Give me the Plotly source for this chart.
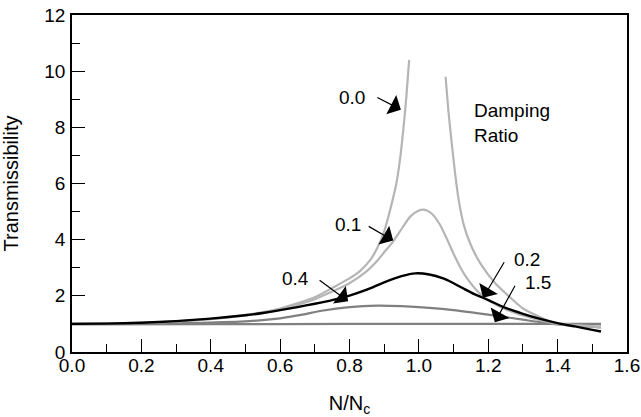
import plotly.graph_objects as go

# Damping ratio 0.0 (undamped), two branches
r00_left = [0.0, 0.2, 0.3, 0.4, 0.5, 0.6, 0.7, 0.75, 0.8, 0.83, 0.86, 0.88, 0.9, 0.92, 0.935, 0.945, 0.955, 0.964, 0.972]
t00_left = [1.0, 1.04, 1.09, 1.18, 1.32, 1.55, 1.95, 2.28, 2.62, 2.88, 3.28, 3.70, 4.30, 5.20, 6.00, 6.80, 7.90, 9.10, 10.40]
r00_right = [1.077, 1.085, 1.095, 1.105, 1.115, 1.13, 1.15, 1.18, 1.22, 1.26, 1.30, 1.35, 1.39, 1.45, 1.50, 1.525]
t00_right = [9.8, 8.6, 7.4, 6.3, 5.4, 4.5, 3.8, 3.1, 2.45, 1.98, 1.55, 1.24, 1.04, 0.95, 0.90, 0.88]

# Damping ratio 0.1
r01 = [0.0, 0.2, 0.4, 0.5, 0.6, 0.7, 0.75, 0.8, 0.85, 0.88, 0.9, 0.926, 0.95, 0.975, 1.0, 1.015, 1.035, 1.06, 1.08, 1.10, 1.12, 1.14, 1.17, 1.2, 1.25, 1.3, 1.35, 1.39, 1.45, 1.5, 1.525]
t01 = [1.0, 1.04, 1.17, 1.30, 1.50, 1.88, 2.15, 2.45, 2.88, 3.25, 3.55, 3.94, 4.38, 4.82, 5.04, 5.07, 4.95, 4.55, 4.05, 3.50, 3.00, 2.60, 2.15, 1.85, 1.52, 1.30, 1.13, 1.02, 0.96, 0.92, 0.91]

# Damping ratio 0.2 (black)
r02 = [0.0, 0.1, 0.2, 0.3, 0.4, 0.5, 0.55, 0.6, 0.65, 0.7, 0.75, 0.8, 0.85, 0.9, 0.95, 0.99, 1.03, 1.07, 1.1, 1.13, 1.16, 1.2, 1.25, 1.3, 1.35, 1.4, 1.45, 1.5, 1.525]
t02 = [1.0, 1.01, 1.04, 1.10, 1.19, 1.31, 1.39, 1.49, 1.60, 1.72, 1.85, 2.01, 2.22, 2.48, 2.70, 2.80, 2.76, 2.62, 2.45, 2.25, 2.06, 1.85, 1.57, 1.36, 1.18, 1.03, 0.91, 0.79, 0.73]

# Damping ratio 0.4
r04 = [0.0, 0.2, 0.37, 0.51, 0.6, 0.66, 0.72, 0.8, 0.88, 0.95, 1.03, 1.1, 1.2, 1.3, 1.386, 1.45, 1.5, 1.525]
t04 = [1.0, 1.02, 1.04, 1.10, 1.20, 1.32, 1.47, 1.60, 1.65, 1.63, 1.57, 1.49, 1.33, 1.15, 1.00, 0.93, 0.89, 0.88]

# Damping ratio 1.5
r15 = [0.0, 0.4, 0.8, 1.2, 1.525]
t15 = [0.98, 0.99, 1.0, 1.0, 1.0]

# Curve labels: text, text position, arrow tip position, arrow tail offset (px)
label_text = ["0.0", "0.1", "0.4", "0.2", "1.5"]
label_x = [0.807, 0.795, 0.643, 1.311, 1.344]
label_y = [9.06, 4.54, 2.60, 3.29, 2.46]
tip_x = [0.948, 0.926, 0.796, 1.185, 1.219]
tip_y = [8.63, 3.97, 1.81, 1.93, 1.06]
tail_dx = [-25, -26, -30, 22, 21]
tail_dy = [-13, -15, -22, -37, -38]

x_ticks = [0.0, 0.2, 0.4, 0.6, 0.8, 1.0, 1.2, 1.4, 1.6]
x_ticklabels = ["0.0", "0.2", "0.4", "0.6", "0.8", "1.0", "1.2", "1.4", "1.6"]
y_ticks = [0, 2, 4, 6, 8, 10, 12]

FONT = "Liberation Sans, Arial, Helvetica, sans-serif"
LIGHT = "#b5b5b5"
MID = "#808080"
FS = 19

fig = go.Figure()

def add(x, y, color, width=2.2):
    fig.add_trace(go.Scatter(x=x, y=y, mode="lines",
                             line=dict(color=color, width=width, shape="spline", smoothing=0.6),
                             showlegend=False, hoverinfo="skip"))

add(r15, t15, MID)
add(r04, t04, MID)
add(r00_left, t00_left, LIGHT)
add(r00_right, t00_right, LIGHT)
add(r01, t01, LIGHT)
add(r02, t02, "#000000", 2.4)

for i in range(len(label_text)):
    fig.add_annotation(x=label_x[i], y=label_y[i], text=label_text[i], showarrow=False,
                       font=dict(family=FONT, size=FS, color="#000"))
    fig.add_annotation(x=tip_x[i], y=tip_y[i], text="", showarrow=True,
                       ax=tail_dx[i], ay=tail_dy[i], arrowhead=1, arrowsize=3,
                       arrowwidth=1.2, arrowcolor="#000")

fig.add_annotation(x=1.152, y=8.17, text="Damping<br>Ratio", showarrow=False,
                   xanchor="left", yanchor="middle", align="left",
                   font=dict(family=FONT, size=FS, color="#000"))

fig.update_layout(
    width=641, height=417,
    margin=dict(l=72, r=14, t=15, b=65, autoexpand=False),
    paper_bgcolor="white", plot_bgcolor="white",
    font=dict(family=FONT, size=FS, color="#000"),
    xaxis=dict(range=[0, 1.6], tickvals=x_ticks, ticktext=x_ticklabels,
               ticks="inside", ticklen=13, tickwidth=1.3, tickcolor="#000",
               ticklabelstandoff=-5, ticklabeloverflow="allow", automargin=False,
               minor=dict(dtick=0.1, ticks="inside", ticklen=8, tickwidth=1.3, tickcolor="#000", showgrid=False),
               showline=True, linecolor="#000", linewidth=1.5, mirror=True,
               showgrid=False, zeroline=False,
               title=dict(text="N/N<sub>c</sub>", font=dict(size=20), standoff=31)),
    yaxis=dict(range=[0, 12], tickvals=y_ticks,
               ticks="inside", ticklen=13, tickwidth=1.3, tickcolor="#000",
               ticklabelstandoff=1, ticklabeloverflow="allow", automargin=False,
               minor=dict(dtick=1, ticks="inside", ticklen=8, tickwidth=1.3, tickcolor="#000", showgrid=False),
               showline=True, linecolor="#000", linewidth=1.5, mirror=True,
               showgrid=False, zeroline=False,
               title=dict(text="Transmissibility", font=dict(size=20), standoff=20)),
)

# Remove the default page margin so the figure sits at the window's top-left corner
fig.write_html("out.html", config={"displayModeBar": False},
               post_script="document.body.style.margin='0';")
